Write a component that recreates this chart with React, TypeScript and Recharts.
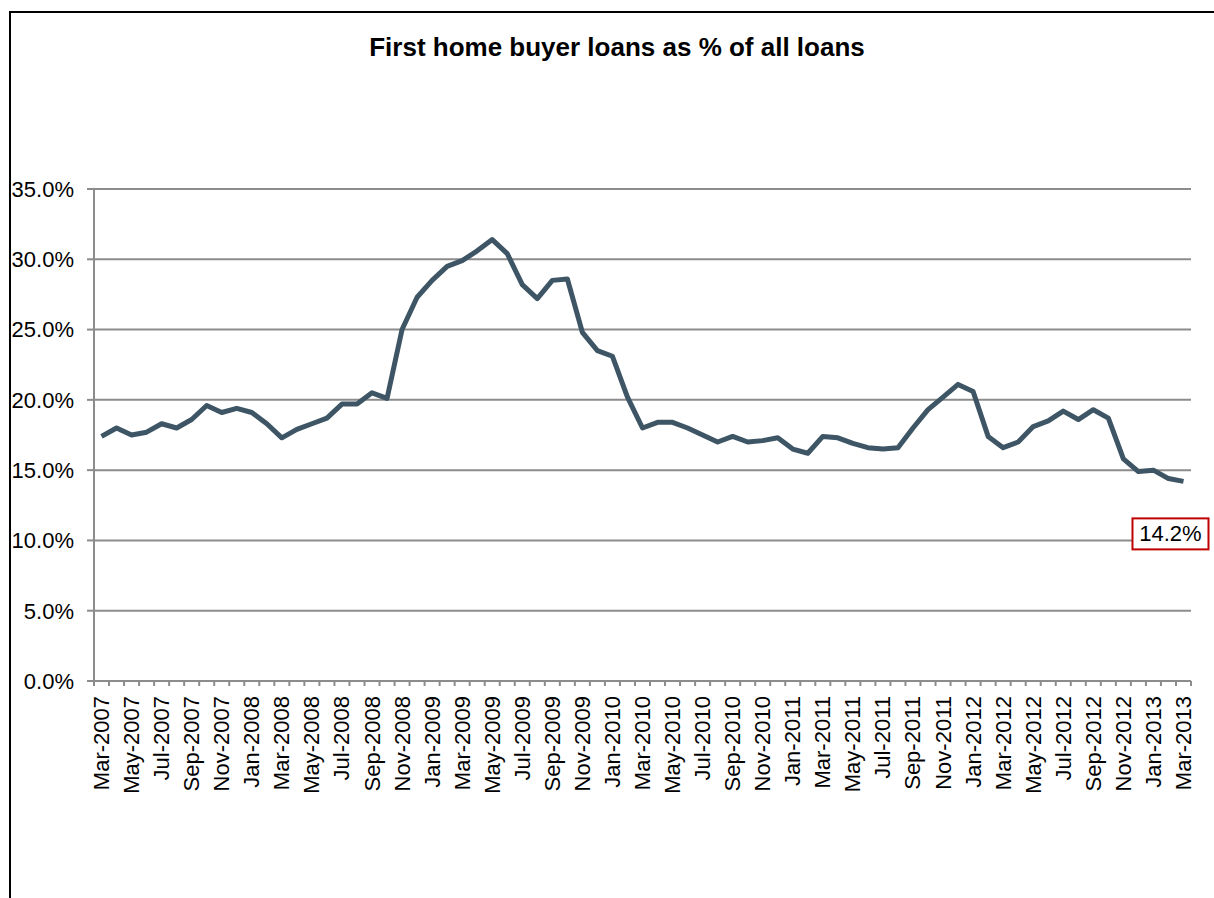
import React from "react";
import { LineChart, Line, XAxis, YAxis, CartesianGrid, LabelList } from "recharts";

const months: string[] = [
  "Mar-2007", "Apr-2007", "May-2007", "Jun-2007", "Jul-2007", "Aug-2007", "Sep-2007", "Oct-2007", "Nov-2007", "Dec-2007",
  "Jan-2008", "Feb-2008", "Mar-2008", "Apr-2008", "May-2008", "Jun-2008", "Jul-2008", "Aug-2008", "Sep-2008", "Oct-2008", "Nov-2008", "Dec-2008",
  "Jan-2009", "Feb-2009", "Mar-2009", "Apr-2009", "May-2009", "Jun-2009", "Jul-2009", "Aug-2009", "Sep-2009", "Oct-2009", "Nov-2009", "Dec-2009",
  "Jan-2010", "Feb-2010", "Mar-2010", "Apr-2010", "May-2010", "Jun-2010", "Jul-2010", "Aug-2010", "Sep-2010", "Oct-2010", "Nov-2010", "Dec-2010",
  "Jan-2011", "Feb-2011", "Mar-2011", "Apr-2011", "May-2011", "Jun-2011", "Jul-2011", "Aug-2011", "Sep-2011", "Oct-2011", "Nov-2011", "Dec-2011",
  "Jan-2012", "Feb-2012", "Mar-2012", "Apr-2012", "May-2012", "Jun-2012", "Jul-2012", "Aug-2012", "Sep-2012", "Oct-2012", "Nov-2012", "Dec-2012",
  "Jan-2013", "Feb-2013", "Mar-2013",
];

const shares: number[] = [
  17.4, 18.0, 17.5, 17.7, 18.3, 18.0, 18.6, 19.6, 19.1, 19.4,
  19.1, 18.3, 17.3, 17.9, 18.3, 18.7, 19.7, 19.7, 20.5, 20.1, 25.0, 27.3,
  28.5, 29.5, 29.9, 30.6, 31.4, 30.4, 28.2, 27.2, 28.5, 28.6, 24.8, 23.5,
  23.1, 20.2, 18.0, 18.4, 18.4, 18.0, 17.5, 17.0, 17.4, 17.0, 17.1, 17.3,
  16.5, 16.2, 17.4, 17.3, 16.9, 16.6, 16.5, 16.6, 18.0, 19.3, 20.2, 21.1,
  20.6, 17.4, 16.6, 17.0, 18.1, 18.5, 19.2, 18.6, 19.3, 18.7, 15.8, 14.9,
  15.0, 14.4, 14.2,
];

const yTicks: number[] = [0, 5, 10, 15, 20, 25, 30, 35];

const title = "First home buyer loans as % of all loans";

const data = months.map((m, i) => ({ month: m, share: shares[i] }));

const FONT = "'Liberation Sans', Arial, Helvetica, sans-serif";
const GRID = "#8c8c8c";
const LINE = "#3e5565";

const CHART_W = 1214;
const CHART_H = 898;
const MARGIN = { top: 189, right: 23, bottom: 117, left: 0 };
const Y_W = 94;

function XTick(props: any) {
  const { x, y, payload, index } = props;
  const plotW = CHART_W - MARGIN.left - MARGIN.right - Y_W;
  const half = payload && typeof payload.offset === "number" && payload.offset > 0 ? payload.offset : plotW / months.length / 2;
  const last = index === months.length - 1;
  const ty = y + 15;
  return (
    <g>
      <line x1={x - half} y1={y} x2={x - half} y2={y + 5} stroke={GRID} strokeWidth={2} />
      {last && <line x1={x + half} y1={y} x2={x + half} y2={y + 5} stroke={GRID} strokeWidth={2} />}
      {index % 2 === 0 && (
        <text
          x={x}
          y={ty}
          transform={`rotate(-90 ${x} ${ty})`}
          textAnchor="end"
          dominantBaseline="central"
          fontFamily={FONT}
          fontSize={22}
          fill="#000"
        >
          {payload.value}
        </text>
      )}
    </g>
  );
}

function LastLabel(props: any) {
  const { x, y, value, index } = props;
  if (index !== shares.length - 1) return null;
  const w = 76;
  const h = 31;
  const bx = x - 51;
  const by = y + 37;
  return (
    <g>
      <rect x={bx} y={by} width={w} height={h} fill="#fff" stroke="#c00000" strokeWidth={2} />
      <text
        x={bx + w / 2}
        y={by + h / 2}
        textAnchor="middle"
        dominantBaseline="central"
        fontFamily={FONT}
        fontSize={22}
        fill="#000"
      >
        {`${Number(value).toFixed(1)}%`}
      </text>
    </g>
  );
}

export default function App() {
  return (
    <div style={{ position: "absolute", left: 0, top: 0, width: CHART_W, height: CHART_H, background: "#fff", overflow: "hidden" }}>
      <div
        style={{
          position: "absolute",
          left: 9,
          top: 11,
          width: CHART_W,
          height: CHART_H,
          borderLeft: "2px solid #000",
          borderTop: "2px solid #000",
          boxSizing: "border-box",
        }}
      />
      <div
        style={{
          position: "absolute",
          left: 0,
          top: 31,
          width: 1234,
          textAlign: "center",
          fontFamily: FONT,
          fontWeight: "bold",
          fontSize: 26,
          lineHeight: "32px",
          color: "#000",
        }}
      >
        {title}
      </div>
      <div style={{ position: "absolute", left: 0, top: 0 }}>
        <LineChart width={CHART_W} height={CHART_H} data={data} margin={MARGIN}>
          <CartesianGrid vertical={false} stroke={GRID} strokeWidth={2} />
          <XAxis
            dataKey="month"
            scale="band"
            interval={0}
            height={100}
            axisLine={{ stroke: GRID, strokeWidth: 2 }}
            tickLine={false}
            tickSize={0}
            tickMargin={0}
            tick={<XTick />}
          />
          <YAxis
            width={Y_W}
            domain={[0, 35]}
            ticks={yTicks}
            interval={0}
            tickFormatter={(v: number) => `${v.toFixed(1)}%`}
            axisLine={{ stroke: GRID, strokeWidth: 2 }}
            tickLine={{ stroke: GRID, strokeWidth: 2 }}
            tickSize={7}
            tickMargin={13}
            tick={{ fontFamily: FONT, fontSize: 22, fill: "#000" }}
          />
          <Line
            type="linear"
            dataKey="share"
            stroke={LINE}
            strokeWidth={5}
            dot={false}
            activeDot={false}
            strokeLinejoin="round"
            isAnimationActive={false}
          >
            <LabelList dataKey="share" content={<LastLabel />} />
          </Line>
        </LineChart>
      </div>
    </div>
  );
}
